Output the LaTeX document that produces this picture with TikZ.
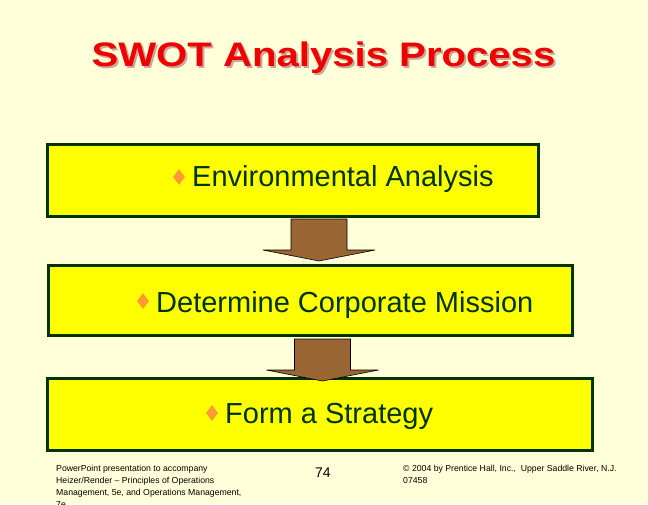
\documentclass[tikz,border=0pt]{standalone}
\usepackage{fontspec}
\setmainfont{Liberation Sans}
\usetikzlibrary{shapes.geometric}
\definecolor{bgcream}{HTML}{FFFFD9}
\definecolor{boxyellow}{HTML}{FFFF00}
\definecolor{boxgreen}{HTML}{003300}
\definecolor{bulletorange}{HTML}{FF9933}
\definecolor{arrowbrown}{HTML}{996633}
\definecolor{titlered}{HTML}{F00000}
\definecolor{titleshadow}{HTML}{C8A898}
\tikzset{
  stagebox/.style={draw=boxgreen, line width=3pt, fill=boxyellow, rectangle, inner sep=0pt},
  stagetext/.style={anchor=base west, inner sep=0pt, text=boxgreen, font=\fontsize{29}{34}\selectfont},
  bulletmark/.style={shape=diamond, fill=bulletorange, inner sep=0pt, minimum width=12pt, minimum height=16pt},
  footnote/.style={anchor=base west, inner sep=0pt, font=\fontsize{8.7}{12}\selectfont, align=left},
  arrowshape/.style={fill=arrowbrown, draw=black, line width=0.6pt, line join=miter},
  blockarrow/.pic={
    \path[arrowshape] (-28,0) -- (28,0) -- (28,31) -- (56,31) -- (0,42) -- (-56,31) -- (-28,31) -- cycle;
  }
}
\begin{document}
\begin{tikzpicture}[x=1pt,y=-1pt]
\useasboundingbox[fill=bgcream] (0,0) rectangle (648,504);
% title (shadow drawn beneath)
\node[anchor=base, inner sep=0pt, text=titleshadow, font=\bfseries\fontsize{34}{40}\selectfont] (titleshadow) at (325.5,68) {\scalebox{1.18}[1]{SWOT Analysis Process}};
\node[anchor=base, inner sep=0pt, text=titlered, font=\bfseries\fontsize{34}{40}\selectfont] (title) at (323.5,66) {\scalebox{1.18}[1]{SWOT Analysis Process}};
% boxes
\node[stagebox, minimum width=491pt, minimum height=72pt] (b1) at (292.5,180) {};
\node[stagebox, minimum width=524pt, minimum height=70pt] (b2) at (310,300) {};
\node[stagebox, minimum width=545pt, minimum height=72pt] (b3) at (319.5,414) {};
% texts
\node[bulletmark] (d1) at (179,177) {};
\node[stagetext] (t1) at (192,186) {Environmental Analysis};
\node[bulletmark] (d2) at (143,301) {};
\node[stagetext] (t2) at (156,312) {Determine Corporate Mission};
\node[bulletmark] (d3) at (212,413) {};
\node[stagetext] (t3) at (225,423) {Form a Strategy};
% arrows
\coordinate (a1) at (319,219);
\coordinate (a2) at (322.5,339);
\pic at (a1) {blockarrow};
\pic at (a2) {blockarrow};
% footer
\node[footnote] (f1) at (56,471) {PowerPoint presentation to accompany};
\node[footnote] (f2) at (56,483) {Heizer/Render -- Principles of Operations};
\node[footnote] (f3) at (56,495) {Management, 5e, and Operations Management,};
\node[footnote] (f4) at (56,507) {7e};
\node[anchor=base west, inner sep=0pt, font=\fontsize{14}{16}\selectfont] (pg) at (315,477) {74};
\node[footnote] (c1) at (403,471) {© 2004 by Prentice Hall, Inc.,\ \ Upper Saddle River, N.J.};
\node[footnote] (c2) at (403,483) {07458};
\end{tikzpicture}
\end{document}
